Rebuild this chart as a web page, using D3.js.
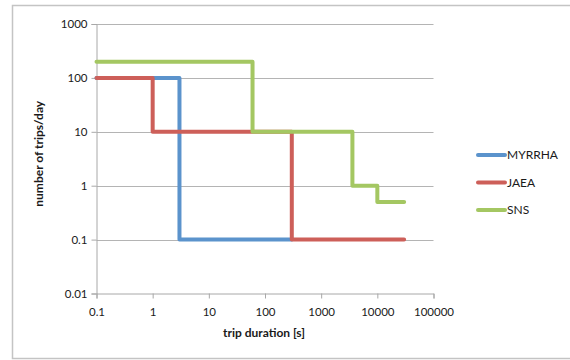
<!DOCTYPE html>
<html>
<head>
<meta charset="utf-8">
<script src="https://cdn.jsdelivr.net/npm/d3@7"></script>
<style>
  html, body { margin: 0; padding: 0; background: #fff; }
  svg text { font-family: Lato, "Open Sans", sans-serif; fill: #1a1a1a; }
</style>
</head>
<body>
<svg id="chart" width="570" height="360"></svg>
<script>
// Step profiles: each point starts a level that holds until the next point
const seriesNames = ["MYRRHA", "JAEA", "SNS"];
const myrrhaDuration = [0.1, 3, 300];
const myrrhaTrips    = [100, 0.1, 0.1];
const jaeaDuration   = [0.1, 1, 300, 30000];
const jaeaTrips      = [100, 10, 0.1, 0.1];
const snsDuration    = [0.1, 60, 3600, 10000, 30000];
const snsTrips       = [200, 10, 1, 0.5, 0.5];
const xTickValues = [0.1, 1, 10, 100, 1000, 10000, 100000];
const yTickValues = [0.01, 0.1, 1, 10, 100, 1000];
const seriesColors = ["#5b93cc", "#cd5f59", "#a4c762"];

const series = [
  { name: seriesNames[0], x: myrrhaDuration, y: myrrhaTrips },
  { name: seriesNames[1], x: jaeaDuration, y: jaeaTrips },
  { name: seriesNames[2], x: snsDuration, y: snsTrips }
];

const svg = d3.select("#chart");
const plotLeft = 96.5, plotRight = 433.5, plotTop = 24, plotBottom = 293.5;

// outer frame
svg.append("rect")
  .attr("x", 12.5).attr("y", 5.5)
  .attr("width", 570).attr("height", 353)
  .attr("fill", "none").attr("stroke", "#c4c4c4").attr("stroke-width", 1.5);

const x = d3.scaleLog().domain([0.1, 100000]).range([plotLeft, plotRight]);
const y = d3.scaleLog().domain([0.01, 1000]).range([plotBottom, plotTop]);

const fmt = d => (d >= 1 ? d3.format("d")(d) : String(d));

// horizontal grid lines
svg.append("g").selectAll("line")
  .data(yTickValues.filter(v => v > 0.01))
  .join("line")
  .attr("x1", plotLeft).attr("x2", plotRight)
  .attr("y1", d => Math.round(y(d)) + 0.5).attr("y2", d => Math.round(y(d)) + 0.5)
  .attr("stroke", "#b4b4b4").attr("stroke-width", 1);

// y axis
const yAxis = svg.append("g")
  .attr("transform", `translate(${plotLeft},0)`)
  .call(d3.axisLeft(y).tickValues(yTickValues).tickFormat(fmt).tickSize(5).tickPadding(4));
yAxis.select(".domain").attr("stroke", "#a8a8a8");
yAxis.selectAll(".tick line").attr("stroke", "#a8a8a8");
yAxis.selectAll(".tick text").style("font-size", "11.5px").attr("fill", "#1a1a1a");

// x axis
const xAxis = svg.append("g")
  .attr("transform", `translate(0,${plotBottom})`)
  .call(d3.axisBottom(x).tickValues(xTickValues).tickFormat(fmt).tickSize(5).tickPadding(9));
xAxis.select(".domain").attr("stroke", "#a8a8a8");
xAxis.selectAll(".tick line").attr("stroke", "#a8a8a8");
xAxis.selectAll(".tick text").style("font-size", "11.5px").attr("fill", "#1a1a1a");

// series step lines
const line = d3.line()
  .x(d => x(d[0]))
  .y(d => y(d[1]))
  .curve(d3.curveStepAfter);

svg.append("g").selectAll("path")
  .data(series)
  .join("path")
  .attr("d", s => line(s.x.map((v, i) => [v, s.y[i]])))
  .attr("fill", "none")
  .attr("stroke", (s, i) => seriesColors[i])
  .attr("stroke-width", 4)
  .attr("stroke-linejoin", "round")
  .attr("stroke-linecap", "round");

// axis titles
svg.append("text")
  .attr("x", (plotLeft + plotRight) / 2 - 1).attr("y", 337)
  .attr("text-anchor", "middle")
  .style("font-size", "12px").style("font-weight", "bold")
  .text("trip duration [s]");

svg.append("text")
  .attr("transform", `translate(43,${(plotTop + plotBottom) / 2 - 5}) rotate(-90)`)
  .attr("text-anchor", "middle")
  .style("font-size", "12px").style("font-weight", "bold")
  .text("number of trips/day");

// legend
const legend = svg.append("g").selectAll("g")
  .data(series)
  .join("g")
  .attr("transform", (s, i) => `translate(478,${155 + i * 27.5})`);
legend.append("line")
  .attr("x1", 0).attr("x2", 27)
  .attr("stroke", (s, i) => seriesColors[i])
  .attr("stroke-width", 4).attr("stroke-linecap", "round");
legend.append("text")
  .attr("x", 29).attr("dy", "0.36em")
  .style("font-size", "12px")
  .text(s => s.name);
</script>
</body>
</html>
